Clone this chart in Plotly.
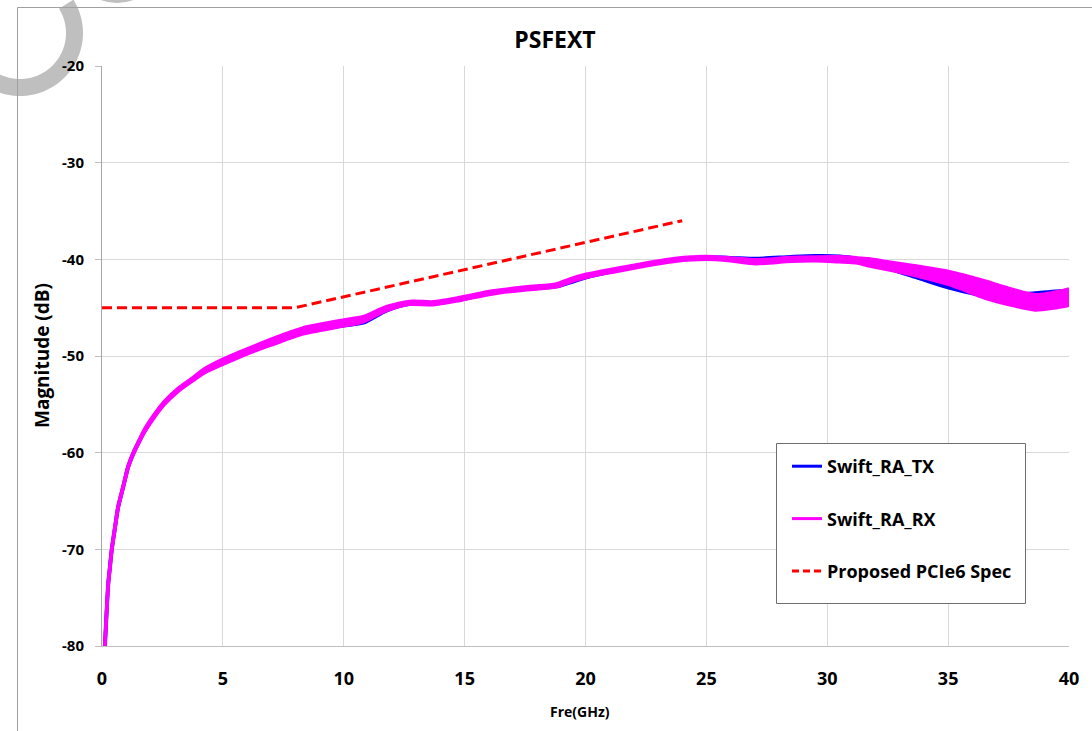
import math
import plotly.graph_objects as go

# ---------------- data ----------------
freq_ghz = [0.12, 0.26, 0.33, 0.40, 0.54, 0.67, 0.88, 1.09, 1.29, 1.5, 1.78, 2.19, 2.6,
            3.15, 3.7, 4.26, 5.08, 6.32, 7.5, 8.32, 9.97, 10.8, 11.76, 12.73, 13.7, 14.8,
            16.2, 17.55, 18.8, 19.34, 20.03, 21.27, 22.8, 23.7, 24.98, 26.0, 27.05, 28.5,
            29.5, 30.5, 31.2, 31.7, 32.6, 33.8, 35.06, 36.55, 37.6, 38.6, 39.86, 40.0]

tx_db = [-80.0, -73.5, -71.8, -70.1, -67.7, -65.6, -63.5, -61.4, -60.1, -59.0, -57.65,
         -56.1, -54.8, -53.5, -52.5, -51.5, -50.6, -49.3, -48.25, -47.6, -46.85, -46.55,
         -45.3, -44.6, -44.6, -44.15, -43.45, -43.05, -42.8, -42.4, -41.85, -41.15,
         -40.45, -40.05, -39.8, -39.85, -39.95, -39.75, -39.65, -39.7, -39.95, -40.5,
         -41.0, -41.95, -42.95, -43.75, -43.7, -43.5, -43.25, -43.2]

# RX trace is a ripply band: upper and lower envelope
rx_hi_db = [-79.9, -73.4, -71.7, -70.0, -67.6, -65.5, -63.4, -61.3, -60.0, -58.9, -57.5,
            -55.95, -54.65, -53.35, -52.35, -51.3, -50.24, -48.94, -47.79, -47.09, -46.29,
            -45.94, -44.9, -44.35, -44.4, -43.95, -43.25, -42.85, -42.55, -42.05, -41.55,
            -40.95, -40.25, -39.9, -39.7, -39.85, -40.05, -39.8, -39.75, -39.74, -39.84,
            -39.94, -40.29, -40.73, -41.28, -42.27, -43.07, -43.67, -43.17, -43.07]
rx_lo_db = [-80.1, -73.6, -71.9, -70.2, -67.8, -65.7, -63.6, -61.5, -60.2, -59.1, -57.8,
            -56.25, -54.95, -53.65, -52.65, -51.7, -50.76, -49.46, -48.41, -47.71, -46.91,
            -46.46, -45.3, -44.65, -44.7, -44.25, -43.55, -43.15, -42.85, -42.35, -41.85,
            -41.25, -40.55, -40.2, -40.0, -40.15, -40.45, -40.2, -40.15, -40.26, -40.36,
            -40.66, -41.11, -41.77, -42.62, -44.03, -44.73, -45.23, -44.83, -44.73]

spec_freq = [0, 8, 24]
spec_db = [-45, -45, -36]

x_ticks = [0, 5, 10, 15, 20, 25, 30, 35, 40]
y_ticks = [-80, -70, -60, -50, -40, -30, -20]
y_tick_text = ["-80", "-70", "-60", "-50", "-40", "-30", "-20"]

series_names = ["Swift_RA_TX", "Swift_RA_RX", "Proposed PCIe6 Spec"]

# ---------------- styling ----------------
FONT = "Open Sans"
BLUE = "#0000ff"
MAGENTA = "#ff00ff"
RED = "#ff0000"
W, H = 1092, 731
L, R, T, B = 102, 1069, 66, 646   # plot area in pixels


def px(x):
    return (x - L) / (R - L)


def py(y):
    return (B - y) / (B - T)


fig = go.Figure()

SM = 0.7
fig.add_trace(go.Scatter(x=freq_ghz, y=tx_db, mode="lines",
                         line=dict(color=BLUE, width=4, shape="spline", smoothing=SM),
                         showlegend=False, hoverinfo="skip"))
fig.add_trace(go.Scatter(x=freq_ghz, y=rx_lo_db, mode="lines",
                         line=dict(color=MAGENTA, width=3.5, shape="spline", smoothing=SM),
                         showlegend=False, hoverinfo="skip"))
fig.add_trace(go.Scatter(x=freq_ghz, y=rx_hi_db, mode="lines",
                         line=dict(color=MAGENTA, width=3.5, shape="spline", smoothing=SM),
                         fill="tonexty", fillcolor=MAGENTA, showlegend=False,
                         hoverinfo="skip"))
fig.add_trace(go.Scatter(x=spec_freq, y=spec_db, mode="lines",
                         line=dict(color=RED, width=3, dash="10px,5px"),
                         showlegend=False, hoverinfo="skip"))

for i, (nm, col, dsh) in enumerate(zip(series_names, [BLUE, MAGENTA, RED],
                                       ["solid", "solid", "7px,4px"])):
    fig.add_trace(go.Scatter(x=[None], y=[None], mode="lines", name=nm,
                             legendgroup=f"g{i}",
                             line=dict(color=col, width=3, dash=dsh)))

# decorative shapes
shapes = []
cx, cy, r_out, r_in = 20, 33, 63, 46
angs = [32 - 4 * k for k in range(0, 66)]
outer = [(cx + r_out * math.cos(math.radians(a)), cy - r_out * math.sin(math.radians(a))) for a in angs]
inner = [(cx + r_in * math.cos(math.radians(a)), cy - r_in * math.sin(math.radians(a))) for a in reversed(angs)]
path = "M " + " L ".join(f"{px(x):.5f},{py(y):.5f}" for x, y in outer + inner) + " Z"
shapes.append(dict(type="path", xref="paper", yref="paper", path=path,
                   fillcolor="#bfbfbf", line=dict(width=0), layer="below"))
shapes.append(dict(type="circle", xref="paper", yref="paper",
                   x0=px(117 - 47), x1=px(117 + 47), y0=py(-44 + 47), y1=py(-44 - 47),
                   fillcolor="#bfbfbf", line=dict(width=0), layer="below"))
shapes.append(dict(type="path", xref="paper", yref="paper",
                   path=f"M {px(17.5)},{py(740)} L {px(17.5)},{py(7.5)} L {px(1100)},{py(7.5)}",
                   line=dict(color="#a0a0a0", width=1), layer="below"))
shapes.append(dict(type="rect", xref="paper", yref="paper",
                   x0=px(776.5), x1=px(1025.5), y0=py(603.5), y1=py(443.5),
                   fillcolor="white", line=dict(color="#6e6e6e", width=1), layer="above"))

fig.update_layout(
    shapes=shapes,
    width=W, height=H,
    margin=dict(l=L, r=W - R, t=T, b=H - B, autoexpand=False),
    paper_bgcolor="white", plot_bgcolor="white",
    font=dict(family=FONT, color="black"),
    title=dict(text="PSFEXT", x=555 / W, xref="container", xanchor="center",
               y=1 - 40 / H, yref="container", yanchor="middle",
               font=dict(family=FONT, size=23, weight="bold", color="black")),
    showlegend=True,
    legend=dict(x=px(787), y=py(448), xanchor="left", yanchor="top",
                bgcolor="rgba(0,0,0,0)", borderwidth=0, tracegroupgap=26,
                traceorder="grouped",
                font=dict(family=FONT, size=18, weight="bold", color="black")),
    xaxis=dict(range=[0, 40], tickmode="array", tickvals=x_ticks,
               ticks="", showgrid=True, gridcolor="#d9d9d9", gridwidth=1,
               showline=True, linecolor="#bfbfbf", linewidth=1, zeroline=False,
               ticklabelstandoff=16,
               tickfont=dict(family=FONT, size=18, weight="bold", color="black")),
    yaxis=dict(range=[-80, -20], tickmode="array", tickvals=y_ticks, ticktext=y_tick_text,
               ticks="outside", ticklen=6, tickcolor="#bfbfbf",
               showgrid=True, gridcolor="#d9d9d9", gridwidth=1,
               showline=True, linecolor="#a6a6a6", linewidth=1, zeroline=False,
               ticklabelstandoff=8,
               tickfont=dict(family=FONT, size=15, weight="bold", color="black")),
    annotations=[
        dict(text="Magnitude (dB)", xref="paper", yref="paper", x=px(42), y=py(356),
             textangle=-90, showarrow=False, xanchor="center", yanchor="middle",
             font=dict(family=FONT, size=19, weight="bold", color="black")),
        dict(text="Fre(GHz)", xref="paper", yref="paper", x=px(580), y=py(711),
             showarrow=False, xanchor="center", yanchor="middle",
             font=dict(family=FONT, size=14, weight="bold", color="black")),
    ],
)

fig.write_html("out.html", config={"displayModeBar": False},
               post_script="document.body.style.margin='0';document.body.style.overflow='hidden';")
